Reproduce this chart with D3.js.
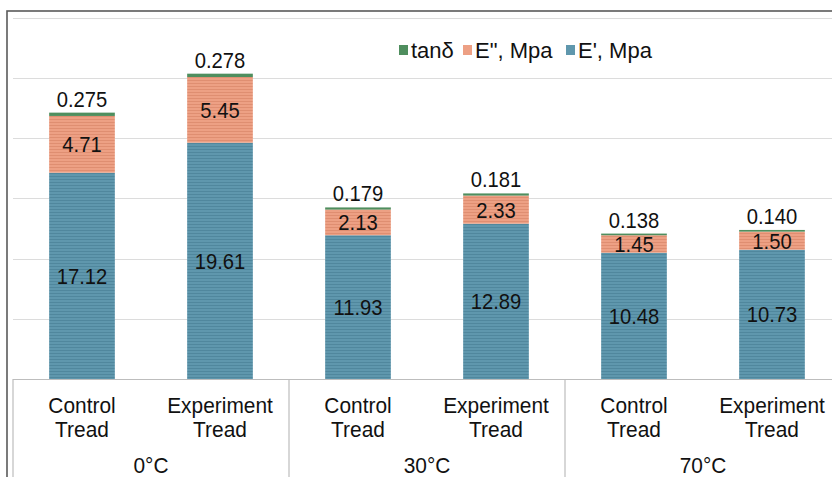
<!DOCTYPE html>
<html>
<head>
<meta charset="utf-8">
<script src="https://cdn.jsdelivr.net/npm/d3@7"></script>
<style>
  html, body { margin: 0; padding: 0; background: #fff; }
  svg { display: block; font-family: "Liberation Sans", Arial, sans-serif; }
</style>
</head>
<body>
<svg id="chart" width="832" height="477"></svg>
<script>
// Dynamic mechanical properties of tread compounds at three temperatures
const temps = ["0°C", "30°C", "70°C"];
const treads = ["Control Tread", "Experiment Tread"];
const ePrime = [17.12, 19.61, 11.93, 12.89, 10.48, 10.73];   // E', Mpa
const eDouble = [4.71, 5.45, 2.13, 2.33, 1.45, 1.50];        // E", Mpa
const tanDelta = [0.275, 0.278, 0.179, 0.181, 0.138, 0.140]; // tanδ
const yTicks = [5, 10, 15, 20, 25, 30];

const seriesKeys = ["ePrime", "eDouble", "tanDelta"];
const legendItems = [
  { key: "tanDelta", label: "tanδ" },
  { key: "eDouble", label: "E\", Mpa" },
  { key: "ePrime", label: "E', Mpa" }
];

const rows = [];
temps.forEach((t, ti) => treads.forEach((tr, ri) => {
  const i = ti * treads.length + ri;
  rows.push({ id: t + "|" + tr, temp: t, tread: tr,
    ePrime: ePrime[i], eDouble: eDouble[i], tanDelta: tanDelta[i] });
}));

const svg = d3.select("#chart");
const W = 832, H = 477;
const plot = { left: 13, right: 841, top: 17.5, bottom: 379 };

// text placed at (x, y) with a slight horizontal condensing
function addText(g, x, y, str, sx) {
  return g.append("text")
    .attr("transform", `translate(${x},${y}) scale(${sx},1)`)
    .text(str);
}

// striped fills
const defs = svg.append("defs");
const fills = {
  ePrime: { base: "#5f97ad", stripe: "#50879d" },
  eDouble: { base: "#eda084", stripe: "#df8e71" },
  tanDelta: { base: "#4f8e5e", stripe: "#4f8e5e" }
};
Object.entries(fills).forEach(([k, c]) => {
  const p = defs.append("pattern").attr("id", "pat-" + k)
    .attr("patternUnits", "userSpaceOnUse").attr("width", 8).attr("height", 3);
  p.append("rect").attr("width", 8).attr("height", 3).attr("fill", c.base);
  p.append("rect").attr("y", 2).attr("width", 8).attr("height", 1).attr("fill", c.stripe);
});

const x = d3.scaleBand().domain(rows.map(d => d.id))
  .range([plot.left, plot.right]).paddingInner(0.524).paddingOuter(0.262);
const y = d3.scaleLinear().domain([0, 30]).range([plot.bottom, plot.top]);

// outer frame
svg.append("rect").attr("x", 7).attr("y", 11).attr("width", W + 20).attr("height", H + 20)
  .attr("fill", "none").attr("stroke", "#5a5a5a").attr("stroke-width", 1.6);

// gridlines
svg.append("g").selectAll("line").data(yTicks).join("line")
  .attr("x1", plot.left).attr("x2", plot.right)
  .attr("y1", d => Math.round(y(d)) + 0.5).attr("y2", d => Math.round(y(d)) + 0.5)
  .attr("stroke", "#dcdcdc").attr("stroke-width", 1.2);

// stacked bars
const stacked = d3.stack().keys(seriesKeys)(rows);
const gBars = svg.append("g");
stacked.forEach(layer => {
  gBars.append("g").selectAll("rect").data(layer).join("rect")
    .attr("x", d => x(d.data.id))
    .attr("width", x.bandwidth())
    .attr("y", d => y(d[1]))
    .attr("height", d => y(d[0]) - y(d[1]))
    .attr("fill", "url(#pat-" + layer.key + ")");
});

// value labels
const gLab = svg.append("g").attr("font-size", 22).attr("fill", "#111").attr("text-anchor", "middle");
stacked.forEach(layer => {
  layer.forEach(d => {
    const v = d.data[layer.key];
    const cx = x(d.data.id) + x.bandwidth() / 2;
    const isTop = layer.key === "tanDelta";
    const cy = isTop ? y(d[1]) - 6 : (y(d[0]) + y(d[1])) / 2 + 8;
    addText(gLab, cx, cy, isTop ? v.toFixed(3) : v.toFixed(2), 0.92);
  });
});

// category axis (multi-level)
const axisColor = "#bdbdbd";
svg.append("line").attr("x1", plot.left).attr("x2", plot.right)
  .attr("y1", plot.bottom + 0.5).attr("y2", plot.bottom + 0.5)
  .attr("stroke", axisColor).attr("stroke-width", 1.2);
const groupW = (plot.right - plot.left) / temps.length;
const sepX = d3.range(temps.length + 1).map(i => plot.left + i * groupW);
svg.append("g").selectAll("line").data(sepX).join("line")
  .attr("x1", d => d).attr("x2", d => d)
  .attr("y1", plot.bottom).attr("y2", H + 5)
  .attr("stroke", axisColor).attr("stroke-width", 1.2);

const gCat = svg.append("g").attr("font-size", 22).attr("fill", "#111").attr("text-anchor", "middle");
rows.forEach(d => {
  const cx = x(d.id) + x.bandwidth() / 2;
  const parts = d.tread.split(" ");
  addText(gCat, cx, 413, parts[0], 0.95);
  addText(gCat, cx, 437, parts[1], 0.95);
});
temps.forEach((t, i) => addText(gCat, plot.left + (i + 0.5) * groupW, 473, t, 0.95));

// legend
const legend = svg.append("g").attr("font-size", 22).attr("fill", "#111");
const legendPos = [399, 463, 566];
legendItems.forEach((it, i) => {
  const g = legend.append("g").attr("transform", `translate(${legendPos[i]},0)`);
  g.append("rect").attr("x", 0).attr("y", 45).attr("width", 9).attr("height", 10)
    .attr("fill", fills[it.key].base);
  addText(g, 12, 58, it.label, 1);
});
</script>
</body>
</html>
